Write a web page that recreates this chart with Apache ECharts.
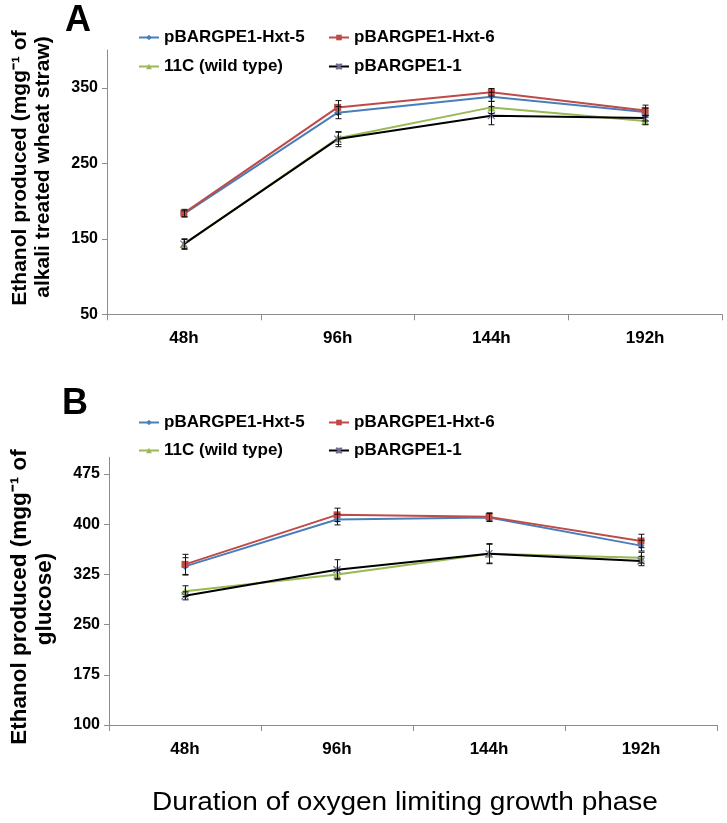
<!DOCTYPE html>
<html>
<head>
<meta charset="utf-8">
<script src="https://cdn.jsdelivr.net/npm/echarts@6/dist/echarts.min.js"></script>
<style>
html,body{margin:0;padding:0;background:#fff;}
#chart{width:727px;height:823px;}
</style>
</head>
<body>
<div id="chart"></div>
<script>
// ---- data ----
const categories = ['48h', '96h', '144h', '192h'];
const seriesNames = ['pBARGPE1-Hxt-5', 'pBARGPE1-Hxt-6', '11C (wild type)', 'pBARGPE1-1'];

// Panel A: alkali treated wheat straw
const aHxt5 = [183, 317, 338, 318];
const aHxt6 = [184, 324, 344, 320];
const aWild = [143, 283, 324, 306];
const aP1   = [143, 282, 313, 310];
const aHxt5Err = [4, 8, 6, 5];
const aHxt6Err = [5, 9, 5, 7];
const aWildErr = [6, 8, 8, 5];
const aP1Err   = [7, 10, 12, 4];
const yTicksA = [50, 150, 250, 350];

// Panel B: glucose
const bHxt5 = [337, 407, 410, 368];
const bHxt6 = [340, 414, 411, 375];
const bWild = [300, 325, 356, 350];
const bP1   = [293, 332, 356, 345];
const bHxt5Err = [13, 8, 6, 8];
const bHxt6Err = [15, 10, 6, 10];
const bWildErr = [8, 6, 14, 8];
const bP1Err   = [6, 15, 15, 7];
const yTicksB = [100, 175, 250, 325, 400, 475];

// ---- styling ----
const FONT = "'Liberation Sans', Arial, sans-serif";
const colors = ['#4a7ebb', '#be4b48', '#98b954', '#000000'];
const markerColors = ['#4a7ebb', '#be4b48', '#98b954', '#6f6f8f'];
const symbols = ['diamond', 'rect', 'triangle', 'path://M0,0L10,10M10,0L0,10M5,0L5,10'];
const symbolSizes = [7, 7, 8, 7];
const axisColor = '#8c8c8c';

const chart = echarts.init(document.getElementById('chart'), null, {renderer: 'canvas'});

function lineSeries(idx, data, axisIdx) {
  return {
    type: 'line', name: seriesNames[idx], data: data,
    xAxisIndex: axisIdx, yAxisIndex: axisIdx,
    symbol: symbols[idx], symbolSize: symbolSizes[idx], showSymbol: true,
    lineStyle: {color: colors[idx], width: 2},
    itemStyle: idx === 3 ? {color: markerColors[idx], borderColor: markerColors[idx], borderWidth: 1.2}
                         : {color: markerColors[idx], borderWidth: 0},
    z: 3 + idx, animation: false, emphasis: {disabled: true}
  };
}
function errSeries(values, errs, axisIdx) {
  return {
    type: 'custom', xAxisIndex: axisIdx, yAxisIndex: axisIdx,
    data: values.map((v, i) => [i, v - errs[i], v + errs[i]]),
    renderItem: function (params, api) {
      const lo = api.coord([api.value(0), api.value(1)]);
      const hi = api.coord([api.value(0), api.value(2)]);
      const x = Math.round(lo[0]) + 0.5;
      const cw = 3;
      const st = {stroke: '#111', lineWidth: 1};
      return {type: 'group', children: [
        {type: 'line', shape: {x1: x, y1: lo[1], x2: x, y2: hi[1]}, style: st},
        {type: 'line', shape: {x1: x - cw, y1: lo[1], x2: x + cw, y2: lo[1]}, style: st},
        {type: 'line', shape: {x1: x - cw, y1: hi[1], x2: x + cw, y2: hi[1]}, style: st}
      ]};
    },
    z: 10, silent: true, animation: false
  };
}
function legendAt(name, left, top) {
  return {
    data: [name], left: left, top: top, orient: 'horizontal',
    itemWidth: 20, itemHeight: 7, itemGap: 0, selectedMode: false,
    textStyle: {fontFamily: FONT, fontSize: 17, fontWeight: 'bold', color: '#000', padding: [0, 0, 0, 0]}
  };
}
function yAxis(gridIdx, min, max, interval, ticks) {
  return {
    type: 'value', gridIndex: gridIdx, min: min, max: max, interval: interval,
    axisLine: {show: true, lineStyle: {color: axisColor, width: 1}},
    axisTick: {show: true, length: 5, lineStyle: {color: axisColor}, customValues: ticks},
    axisLabel: {fontFamily: FONT, fontSize: 16, fontWeight: 'bold', color: '#000', margin: 9,
                customValues: ticks},
    splitLine: {show: false}
  };
}
function xAxis(gridIdx) {
  return {
    type: 'category', gridIndex: gridIdx, data: categories, boundaryGap: true,
    axisLine: {show: true, lineStyle: {color: axisColor, width: 1}},
    axisTick: {show: true, length: 6, alignWithLabel: false, lineStyle: {color: axisColor}},
    axisLabel: {fontFamily: FONT, fontSize: 17, fontWeight: 'bold', color: '#000', margin: 16},
    splitLine: {show: false}
  };
}

const option = {
  backgroundColor: '#ffffff',
  animation: false,
  grid: [
    {left: 107, right: 5, top: 50, height: 264.3},
    {left: 109, right: 10, top: 457.3, height: 267.7}
  ],
  xAxis: [xAxis(0), xAxis(1)],
  yAxis: [yAxis(0, 50, 400, 100, yTicksA), yAxis(1, 100, 500, 75, yTicksB)],
  legend: [
    legendAt(seriesNames[0], 133, 24), legendAt(seriesNames[1], 323, 24),
    legendAt(seriesNames[2], 133, 53), legendAt(seriesNames[3], 323, 53),
    legendAt(seriesNames[0], 133, 409), legendAt(seriesNames[1], 323, 409),
    legendAt(seriesNames[2], 133, 437), legendAt(seriesNames[3], 323, 437)
  ],
  series: [
    lineSeries(0, aHxt5, 0), lineSeries(1, aHxt6, 0), lineSeries(2, aWild, 0), lineSeries(3, aP1, 0),
    errSeries(aHxt5, aHxt5Err, 0), errSeries(aHxt6, aHxt6Err, 0), errSeries(aWild, aWildErr, 0), errSeries(aP1, aP1Err, 0),
    lineSeries(0, bHxt5, 1), lineSeries(1, bHxt6, 1), lineSeries(2, bWild, 1), lineSeries(3, bP1, 1),
    errSeries(bHxt5, bHxt5Err, 1), errSeries(bHxt6, bHxt6Err, 1), errSeries(bWild, bWildErr, 1), errSeries(bP1, bP1Err, 1)
  ],
  graphic: [
    {type: 'text', x: 78, y: 21, style: {text: 'A', font: "bold 36px " + FONT, fill: '#000', textAlign: 'center', textVerticalAlign: 'middle'}},
    {type: 'text', x: 75, y: 404, style: {text: 'B', font: "bold 36px " + FONT, fill: '#000', textAlign: 'center', textVerticalAlign: 'middle'}},
    {type: 'text', x: 20, y: 168, rotation: Math.PI / 2,
     style: {text: 'Ethanol produced (mgg\u207B\u00B9 of', font: "bold 21px " + FONT, fill: '#000', textAlign: 'center', textVerticalAlign: 'middle'}},
    {type: 'text', x: 43, y: 167, rotation: Math.PI / 2,
     style: {text: 'alkali treated wheat straw)', font: "bold 21px " + FONT, fill: '#000', textAlign: 'center', textVerticalAlign: 'middle'}},
    {type: 'text', x: 20, y: 597, rotation: Math.PI / 2,
     style: {text: 'Ethanol produced (mgg\u207B\u00B9 of', font: "bold 22.5px " + FONT, fill: '#000', textAlign: 'center', textVerticalAlign: 'middle'}},
    {type: 'text', x: 45, y: 599, rotation: Math.PI / 2,
     style: {text: 'glucose)', font: "bold 22.5px " + FONT, fill: '#000', textAlign: 'center', textVerticalAlign: 'middle'}},
    {type: 'text', x: 405, y: 803, scaleX: 1.12,
     style: {text: 'Duration of oxygen limiting growth phase', font: "25px " + FONT, fill: '#000', textAlign: 'center', textVerticalAlign: 'middle'}}
  ]
};
chart.setOption(option);
</script>
</body>
</html>
